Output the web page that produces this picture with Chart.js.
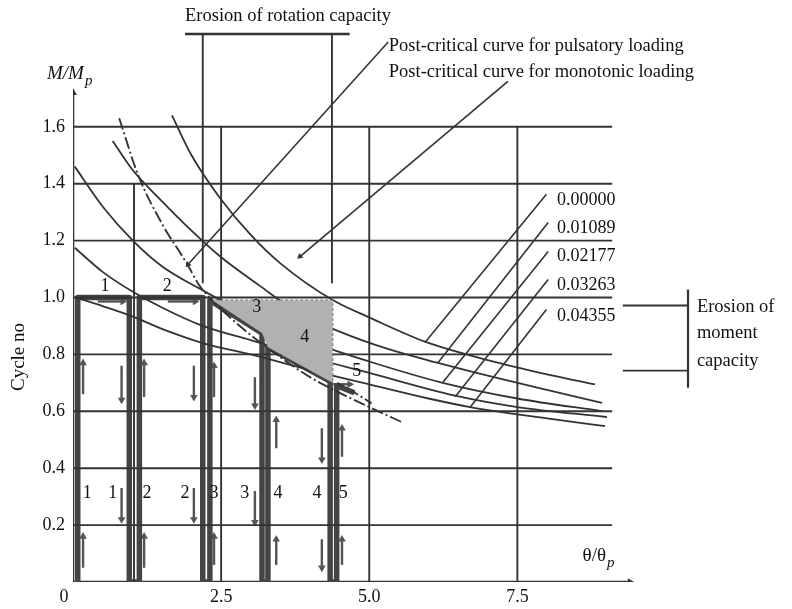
<!DOCTYPE html>
<html>
<head>
<meta charset="utf-8">
<script src="https://cdn.jsdelivr.net/npm/chart.js@4.4.0/dist/chart.umd.min.js"></script>
<style>
  html, body { margin: 0; padding: 0; background: #fff; }
</style>
</head>
<body>
<canvas id="erosion-chart" width="792" height="609"></canvas>
<script>
Chart.defaults.font.family = 'Liberation Serif';

// tick labels
const xTicks = [0, 2.5, 5.0, 7.5];
const yTicks = [0.2, 0.4, 0.6, 0.8, 1.0, 1.2, 1.4, 1.6];

// horizontal rules of the diagram (M/Mp levels) and vertical rules [x, from, to]
const gridLevels = [0.2, 0.4, 0.6, 0.8, 1.0, 1.2, 1.4, 1.6];
const gridRight = 9.1;
const verticalRules = [[1.03, 0, 1.4], [2.5, 0, 1.6], [5.0, 0, 1.6], [7.5, 0, 1.6]];

// erosion curves [theta/theta_p, M/Mp]
const erosionLabels = ['0.00000', '0.01089', '0.02177', '0.03263', '0.04355'];
const curve00000 = [[1.67, 1.64], [2.0, 1.50], [2.48, 1.35], [3.0, 1.22], [3.5, 1.12], [4.39, 0.99], [5.0, 0.93], [5.94, 0.845], [7.0, 0.78], [8.0, 0.73], [8.81, 0.695]];
const curve01089 = [[0.67, 1.55], [1.0, 1.45], [1.47, 1.345], [2.0, 1.235], [2.48, 1.145], [3.16, 1.04], [3.78, 0.95], [4.5, 0.88], [5.3, 0.82], [6.16, 0.77], [7.0, 0.725], [8.0, 0.675], [8.93, 0.63]];
const curve02177 = [[0.03, 1.46], [0.5, 1.32], [1.01, 1.20], [1.5, 1.11], [2.19, 1.025], [3.0, 0.935], [4.0, 0.845], [5.0, 0.775], [6.24, 0.70], [7.5, 0.645], [8.94, 0.60]];
const curve03263 = [[0.03, 1.175], [0.5, 1.09], [1.01, 1.02], [1.5, 0.965], [2.19, 0.90], [3.0, 0.85], [4.0, 0.79], [5.0, 0.735], [6.45, 0.655], [7.5, 0.615], [9.01, 0.58]];
const curve04355 = [[0.05, 1.0], [0.5, 0.97], [0.96, 0.937], [1.5, 0.89], [2.19, 0.84], [3.0, 0.80], [4.0, 0.745], [5.0, 0.695], [6.0, 0.645], [6.7, 0.615], [8.0, 0.575], [8.98, 0.548]];
const erosionCurves = [curve00000, curve01089, curve02177, curve03263, curve04355];
const labelLeaderTops = [[7.99, 1.363], [8.02, 1.264], [8.02, 1.162], [8.02, 1.063], [7.99, 0.958]];
const labelLeaderEnds = [[5.94, 0.842], [6.16, 0.771], [6.24, 0.701], [6.45, 0.651], [6.70, 0.613]];
const labelSpots = [[8.17, 1.342], [8.17, 1.243], [8.17, 1.144], [8.17, 1.042], [8.17, 0.933]];

// post-critical curve, pulsatory loading (dash-dot)
const pulsatoryCurve = [[0.78, 1.63], [1.1, 1.43], [1.5, 1.26], [1.92, 1.12], [2.14, 1.04], [2.35, 0.99], [2.87, 0.89], [3.5, 0.79], [4.0, 0.72], [4.5, 0.665], [5.0, 0.615], [5.57, 0.56]];
const cycle5Tail = [[4.46, 0.70], [4.8, 0.66], [5.06, 0.625]];

// loading path of the cycles
const cyclePath = [[0.08, 0], [0.08, 1.0], [0.95, 1.0], [0.95, 0], [1.12, 0], [1.12, 1.0], [2.19, 1.0], [2.19, 0], [2.31, 0], [2.31, 0.99], [3.19, 0.875], [3.19, 0], [3.29, 0], [3.29, 0.825], [4.34, 0.705], [4.34, 0], [4.45, 0], [4.45, 0.69], [4.75, 0.665]];
const shadedArea = [[2.35, 0.99], [4.38, 0.99], [4.38, 0.70], [3.29, 0.825], [3.19, 0.875], [2.35, 0.99]];
const shadedEdge = [[2.4, 0.99], [4.38, 0.99], [4.38, 0.70]];

// small direction arrows [x, from, to]
const upArrows = [[0.17, 0.05, 0.16], [0.17, 0.66, 0.77], [1.2, 0.05, 0.16], [1.2, 0.65, 0.77], [2.38, 0.06, 0.16], [2.38, 0.65, 0.76], [3.43, 0.06, 0.15], [3.43, 0.47, 0.57], [4.54, 0.06, 0.15], [4.54, 0.44, 0.54]];
const downArrows = [[0.82, 0.76, 0.64], [0.82, 0.33, 0.22], [2.04, 0.76, 0.65], [2.04, 0.33, 0.22], [3.07, 0.72, 0.62], [3.07, 0.32, 0.21], [4.2, 0.54, 0.43], [4.2, 0.15, 0.05]];
const rightArrows = [[0.42, 0.84, 0.986], [1.60, 2.06, 0.986], [4.39, 4.67, 0.695]];

// brackets and leaders
const rotationBracketTop = [[1.89, 1.926], [4.67, 1.926]];
const rotationBracketLegs = [[2.19, 1.05, 1.926], [4.37, 1.05, 1.926]];
const momentBracketArms = [[9.28, 10.38, 0.972], [9.28, 10.38, 0.743]];
const momentBracketSpine = [10.38, 0.683, 1.028];
const pulsatoryLeader = [[5.32, 1.898], [1.94, 1.116]];
const monotonicLeader = [[7.34, 1.76], [3.83, 1.144]];

// texts
const noteTexts = [
  ['Erosion of rotation capacity', 1.89, 1.99],
  ['Post-critical curve for pulsatory loading', 5.33, 1.884],
  ['Post-critical curve for monotonic loading', 5.33, 1.792],
  ['Erosion of', 10.53, 0.965],
  ['moment', 10.53, 0.873],
  ['capacity', 10.53, 0.775]
];
const cycleNumbers = ['1', '2', '3', '4', '5'];
const cycleNumberSpots = [[0.54, 1.039], [1.59, 1.039], [3.10, 0.965], [3.91, 0.859], [4.79, 0.739]];
const legNumbers = ['1', '1', '2', '2', '3', '3', '4', '4', '5'];
const legNumberX = [0.24, 0.67, 1.25, 1.89, 2.38, 2.90, 3.46, 4.12, 4.56];
const legNumberY = 0.313;

const ink = '#333';
const pts = (arr) => arr.map(p => ({ x: p[0], y: p[1] }));

const line = (data, extra) => Object.assign({
  data: data,
  showLine: true,
  borderColor: ink,
  borderWidth: 1.7,
  pointRadius: 0,
  fill: false,
  tension: 0
}, extra || {});

const arrow = (from, to, rotation, color, width) => line([from, to], {
  borderColor: color,
  borderWidth: width,
  pointRadius: [0, width + 2],
  pointStyle: 'triangle',
  rotation: rotation,
  pointBackgroundColor: color,
  pointBorderColor: color,
  pointBorderWidth: 0
});

const datasets = [];

datasets.push(line(pts(shadedArea), { borderWidth: 0, fill: 'shape', backgroundColor: '#b1b1b1' }));

gridLevels.forEach(v => datasets.push(line([{ x: 0, y: v }, { x: gridRight, y: v }], { borderWidth: 1.9 })));
verticalRules.forEach(r => datasets.push(line([{ x: r[0], y: r[1] }, { x: r[0], y: r[2] }], { borderWidth: 1.9 })));

datasets.push(line(pts(shadedEdge), { borderDash: [3, 2], borderColor: '#666', borderWidth: 1.6 }));

erosionCurves.forEach(c => datasets.push(line(pts(c), { cubicInterpolationMode: 'monotone', borderWidth: 1.8 })));
datasets.push(line(pts(pulsatoryCurve), { cubicInterpolationMode: 'monotone', borderDash: [12, 3, 2, 3], borderWidth: 1.9 }));
datasets.push(line(pts(cycle5Tail), { borderDash: [8, 3, 2, 3], borderWidth: 1.9 }));

labelLeaderTops.forEach((t, i) => datasets.push(line(pts([t, labelLeaderEnds[i]]), { borderWidth: 1.6 })));

datasets.push(line(pts(cyclePath), { borderWidth: 5.5, borderColor: '#444', borderJoinStyle: 'round' }));
datasets.push(line(pts(cyclePath), { borderWidth: 2.2, borderColor: '#d2d2d2', borderJoinStyle: 'round' }));

upArrows.forEach(a => datasets.push(arrow({ x: a[0], y: a[1] }, { x: a[0], y: a[2] }, 0, '#555', 2.4)));
downArrows.forEach(a => datasets.push(arrow({ x: a[0], y: a[1] }, { x: a[0], y: a[2] }, 180, '#555', 2.4)));
rightArrows.forEach(a => datasets.push(arrow({ x: a[0], y: a[2] }, { x: a[1], y: a[2] }, 90, '#555', 2.4)));

datasets.push(line(pts(rotationBracketTop), { borderWidth: 2.4 }));
rotationBracketLegs.forEach(l => datasets.push(line([{ x: l[0], y: l[1] }, { x: l[0], y: l[2] }], { borderWidth: 1.9 })));
momentBracketArms.forEach(a => datasets.push(line([{ x: a[0], y: a[2] }, { x: a[1], y: a[2] }], { borderWidth: 1.9 })));
datasets.push(line([{ x: momentBracketSpine[0], y: momentBracketSpine[1] }, { x: momentBracketSpine[0], y: momentBracketSpine[2] }], { borderWidth: 2.2 }));
datasets.push(arrow(...pts(pulsatoryLeader), 222, ink, 1.6));
datasets.push(arrow(...pts(monotonicLeader), 230, ink, 1.6));

// axes
datasets.push(arrow({ x: 0, y: 0 }, { x: 0, y: 1.72 }, 0, '#333', 2.6));
datasets.push(arrow({ x: 0, y: 0 }, { x: 9.4, y: 0 }, 90, '#333', 2.4));

const textPlugin = {
  id: 'diagramTexts',
  afterDatasetsDraw(chart) {
    const { ctx, scales: { x, y } } = chart;
    ctx.save();
    ctx.fillStyle = '#111';
    ctx.textBaseline = 'middle';
    ctx.font = '18.5px "Liberation Serif"';
    ctx.textAlign = 'left';
    noteTexts.forEach(t => ctx.fillText(t[0], x.getPixelForValue(t[1]), y.getPixelForValue(t[2])));
    ctx.font = '18px "Liberation Serif"';
    erosionLabels.forEach((t, i) => ctx.fillText(t, x.getPixelForValue(labelSpots[i][0]), y.getPixelForValue(labelSpots[i][1])));
    ctx.textAlign = 'center';
    cycleNumbers.forEach((t, i) => ctx.fillText(t, x.getPixelForValue(cycleNumberSpots[i][0]), y.getPixelForValue(cycleNumberSpots[i][1])));
    legNumbers.forEach((t, i) => ctx.fillText(t, x.getPixelForValue(legNumberX[i]), y.getPixelForValue(legNumberY)));

    // axis titles
    ctx.textAlign = 'left';
    ctx.font = 'italic 19px "Liberation Serif"';
    ctx.fillText('M/M', 47, 74);
    const w = ctx.measureText('M/M').width;
    ctx.font = 'italic 15px "Liberation Serif"';
    ctx.fillText('p', 47 + w + 1, 81);

    ctx.font = '19px "Liberation Serif"';
    const tx = x.getPixelForValue(8.6), ty = y.getPixelForValue(0.09);
    ctx.fillText('\u03b8/\u03b8', tx, ty);
    const w2 = ctx.measureText('\u03b8/\u03b8').width;
    ctx.font = 'italic 15px "Liberation Serif"';
    ctx.fillText('p', tx + w2 + 1, ty + 7);

    ctx.font = '19px "Liberation Serif"';
    ctx.translate(19, 357);
    ctx.rotate(-Math.PI / 2);
    ctx.textAlign = 'center';
    ctx.fillText('Cycle no', 0, 0);
    ctx.restore();
  }
};

new Chart(document.getElementById('erosion-chart'), {
  type: 'scatter',
  data: { datasets: datasets },
  options: {
    responsive: false,
    animation: false,
    layout: { padding: { top: 13, right: 8, left: 0, bottom: 0 } },
    plugins: { legend: { display: false }, tooltip: { enabled: false } },
    scales: {
      x: {
        type: 'linear',
        min: 0,
        max: 12,
        grid: { display: false, drawTicks: false },
        border: { display: false },
        afterBuildTicks: (s) => { s.ticks = xTicks.map(v => ({ value: v })); },
        afterFit: (s) => { s.height = 27; s.paddingLeft = 0; s.paddingRight = 0; },
        ticks: {
          autoSkip: false,
          maxRotation: 0,
          padding: 4,
          color: '#111',
          font: { size: 18 },
          callback: (v) => v === 0 ? '0\u2002\u2002' : v.toFixed(1)
        }
      },
      y: {
        type: 'linear',
        min: 0,
        max: 2.0,
        grid: { display: false, drawTicks: false },
        border: { display: false },
        afterBuildTicks: (s) => { s.ticks = yTicks.map(v => ({ value: v })); },
        afterFit: (s) => { s.width = 73; s.paddingTop = 0; s.paddingBottom = 0; },
        ticks: {
          autoSkip: false,
          padding: 8,
          color: '#111',
          font: { size: 18 },
          callback: (v) => v.toFixed(1)
        }
      }
    }
  },
  plugins: [textPlugin]
});
</script>
</body>
</html>
